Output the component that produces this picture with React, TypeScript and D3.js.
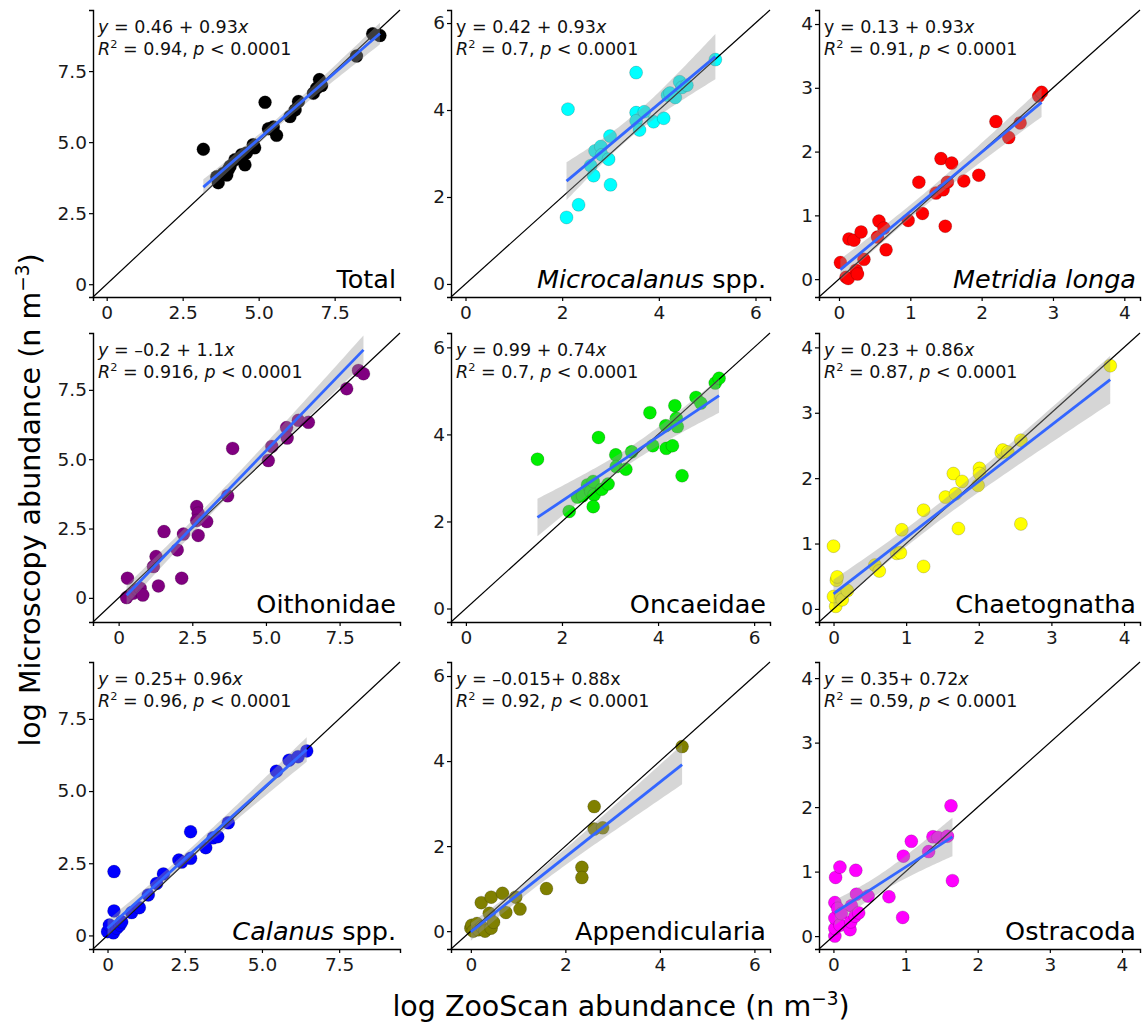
import { useEffect, useRef } from "react";
import * as d3 from "d3";

// Noms des panneaux (entre _ : italique)
const panelNames = [
  "Total", "_Microcalanus_ spp.", "_Metridia longa_",
  "Oithonidae", "Oncaeidae", "Chaetognatha",
  "_Calanus_ spp.", "Appendicularia", "Ostracoda",
];

const panelColors = [
  "#000000", "#00ffff", "#ff0000",
  "#800080", "#00ee00", "#ffff00",
  "#0000ff", "#808000", "#ff00ff",
];

// Equations affichées (_ : italique, ^ : exposant)
const eqLines = [
  "_y_ = 0.46 + 0.93_x_", "y = 0.42 + 0.93_x_", "y = 0.13 + 0.93_x_",
  "_y_ = –0.2 + 1.1_x_", "_y_ = 0.99 + 0.74_x_", "_y_ = 0.23 + 0.86_x_",
  "_y_ = 0.25+ 0.96_x_", "_y_ = –0.015+ 0.88x", "_y_ = 0.35+ 0.72_x_",
];
const r2Values = ["0.94", "0.7", "0.91", "0.916", "0.7", "0.87", "0.96", "0.92", "0.59"];

// Coefficients de la régression
const fitIntercept = [0.46, 0.42, 0.13, -0.2, 0.99, 0.23, 0.25, -0.015, 0.35];
const fitSlope = [0.93, 0.93, 0.93, 1.1, 0.74, 0.86, 0.96, 0.88, 0.72];

// Limites des axes (identiques en x et y)
const domainMin = [-0.45, -0.3, -0.28, -0.87, -0.31, -0.2, -0.47, -0.42, -0.2];
const domainMax = [9.65, 6.3, 4.22, 9.55, 6.33, 4.22, 9.47, 6.33, 4.25];

const ticksA = [0, 2.5, 5, 7.5];
const ticksB = [0, 2, 4, 6];
const ticksC = [0, 1, 2, 3, 4];
const panelTicks = [ticksA, ticksB, ticksC, ticksA, ticksB, ticksC, ticksA, ticksB, ticksC];

// Données : log ZooScan (x) et log Microscopie (y)
const totalZoo = [3.18, 3.62, 3.67, 3.84, 3.95, 4.0, 4.06, 4.22, 4.44, 4.55, 4.6, 4.82, 4.87, 5.21, 5.32, 5.48, 5.59, 6.03, 6.2, 6.31, 6.8, 6.91, 7.0, 7.07, 8.22, 8.75, 8.99];
const totalMicro = [4.75, 3.78, 3.57, 3.9, 3.84, 4.03, 4.15, 4.38, 4.56, 4.2, 4.62, 4.91, 4.8, 6.4, 5.47, 5.53, 5.24, 5.9, 6.13, 6.43, 6.72, 6.9, 7.2, 6.99, 8.03, 8.81, 8.75];

const microZoo = [2.12, 2.09, 2.34, 2.59, 2.65, 2.68, 2.8, 2.82, 2.96, 2.99, 3.0, 3.53, 3.53, 3.53, 3.6, 3.7, 3.89, 4.1, 4.18, 4.23, 4.34, 4.43, 4.48, 4.58, 5.17];
const microMicro = [4.02, 1.53, 1.82, 2.72, 2.49, 3.06, 3.16, 2.97, 2.87, 3.4, 2.28, 4.86, 3.94, 3.75, 3.54, 3.96, 3.73, 3.81, 4.34, 4.39, 4.29, 4.65, 4.52, 4.57, 5.16];

const metridiaZoo = [0.02, 0.1, 0.13, 0.14, 0.21, 0.24, 0.26, 0.31, 0.35, 0.54, 0.56, 0.63, 0.66, 0.97, 1.12, 1.17, 1.36, 1.43, 1.46, 1.49, 1.52, 1.58, 1.75, 1.96, 2.2, 2.38, 2.54, 2.8, 2.84];
const metridiaMicro = [0.26, 0.03, 0.01, 0.63, 0.61, 0.14, 0.08, 0.74, 0.31, 0.66, 0.91, 0.8, 0.46, 0.92, 1.52, 1.03, 1.35, 1.89, 1.4, 0.83, 1.52, 1.82, 1.54, 1.63, 2.47, 2.22, 2.45, 2.87, 2.93];

const oithoZoo = [0.3, 0.27, 0.5, 0.63, 0.73, 0.82, 1.18, 1.27, 1.35, 1.54, 1.99, 2.14, 2.2, 2.65, 2.7, 2.65, 2.7, 2.99, 3.7, 3.87, 5.08, 5.2, 5.7, 5.72, 6.1, 6.44, 7.74, 8.14, 8.31];
const oithoMicro = [0.71, 0.01, 0.17, 0.29, 0.35, 0.1, 1.13, 1.49, 0.43, 2.39, 1.73, 0.71, 2.3, 3.29, 3.05, 2.79, 2.25, 2.75, 3.68, 5.39, 4.95, 5.46, 6.14, 5.76, 6.4, 6.33, 7.54, 8.2, 8.08];

const oncaeZoo = [1.49, 2.15, 2.32, 2.43, 2.53, 2.6, 2.65, 2.67, 2.65, 2.76, 2.83, 2.96, 3.12, 3.13, 3.33, 3.45, 3.83, 3.89, 4.16, 4.17, 4.3, 4.35, 4.38, 4.4, 4.5, 4.79, 4.89, 5.19, 5.27];
const oncaeMicro = [3.43, 2.23, 2.56, 2.59, 2.84, 2.69, 2.92, 2.61, 2.34, 3.93, 2.74, 2.86, 3.53, 3.26, 3.2, 3.6, 4.5, 3.74, 4.2, 3.68, 3.74, 4.66, 4.37, 4.18, 3.05, 4.85, 4.72, 5.18, 5.29];

const chaetoZoo = [0.0, 0.03, 0.0, 0.04, 0.05, 0.1, 0.12, 0.19, 0.57, 0.63, 0.87, 0.92, 0.94, 1.24, 1.24, 1.54, 1.65, 1.68, 1.72, 1.77, 1.99, 2.01, 2.01, 2.31, 2.33, 2.4, 2.58, 2.58, 3.81];
const chaetoMicro = [0.96, 0.04, 0.19, 0.44, 0.49, 0.21, 0.14, 0.28, 0.67, 0.58, 0.85, 0.86, 1.21, 1.51, 0.65, 1.71, 2.07, 1.76, 1.23, 1.95, 1.89, 2.15, 2.07, 2.39, 2.43, 2.4, 2.58, 1.3, 3.72];

const calanusZoo = [0.0, 0.06, 0.19, 0.21, 0.21, 0.3, 0.4, 0.46, 0.78, 1.03, 1.32, 1.59, 1.81, 2.31, 2.4, 2.69, 2.69, 3.18, 3.42, 3.57, 3.91, 5.47, 5.88, 6.17, 6.45];
const calanusMicro = [0.13, 0.36, 0.09, 2.21, 0.85, 0.25, 0.36, 0.47, 0.79, 0.96, 1.4, 1.8, 2.13, 2.61, 2.54, 3.59, 2.67, 3.04, 3.38, 3.42, 3.9, 5.69, 6.07, 6.19, 6.39];

const appendZoo = [0.0, 0.02, 0.05, 0.13, 0.16, 0.22, 0.23, 0.3, 0.43, 0.39, 0.43, 0.48, 0.67, 0.74, 0.95, 1.04, 1.6, 2.35, 2.35, 2.61, 2.61, 2.79, 4.47];
const appendMicro = [0.07, 0.14, 0.0, 0.18, 0.03, 0.67, 0.1, 0.0, 0.8, 0.42, 0.07, 0.21, 0.89, 0.44, 0.8, 0.52, 1.0, 1.5, 1.26, 2.93, 2.4, 2.43, 4.34];

const ostraZoo = [0.02, 0.02, 0.02, 0.02, 0.03, 0.06, 0.09, 0.09, 0.11, 0.23, 0.24, 0.25, 0.3, 0.31, 0.32, 0.35, 0.48, 0.77, 0.96, 0.97, 1.08, 1.32, 1.38, 1.45, 1.58, 1.63, 1.65];
const ostraMicro = [0.0, 0.12, 0.28, 0.52, 0.91, 0.43, 0.17, 1.07, 0.35, 0.1, 0.22, 0.47, 0.31, 1.02, 0.65, 0.36, 0.62, 0.61, 0.29, 1.24, 1.47, 1.31, 1.54, 1.53, 1.55, 2.02, 0.86];

const zooSeries = [totalZoo, microZoo, metridiaZoo, oithoZoo, oncaeZoo, chaetoZoo, calanusZoo, appendZoo, ostraZoo];
const microSeries = [totalMicro, microMicro, metridiaMicro, oithoMicro, oncaeMicro, chaetoMicro, calanusMicro, appendMicro, ostraMicro];

// Mise en page
const width = 1142;
const height = 1027;
const colLeft = [93, 451, 819];
const colRight = [400, 770, 1140];
const rowTop = [10, 333, 662];
const rowBottom = [297, 622, 949];
const font = "DejaVu Sans";

// Texte avec italique (_..._) et exposant (^...^)
const addRich = (textSel, str, size) => {
  const parts = str.split(/(_[^_]+_|\^[^^]+\^)/).filter(s => s.length);
  let reset = 0;
  parts.forEach(p => {
    const t = textSel.append("tspan");
    if (reset) { t.attr("dy", reset); reset = 0; }
    if (p.startsWith("_")) {
      t.attr("font-style", "italic").text(p.slice(1, -1));
    } else if (p.startsWith("^")) {
      t.attr("font-size", size * 0.65).attr("dy", -size * 0.4).text(p.slice(1, -1));
      reset = size * 0.4;
    } else {
      t.text(p);
    }
  });
};

const drawChart = (node) => {
  const svg = d3.select(node);
  svg.selectAll("*").remove();

  panelNames.forEach((name, i) => {
    const col = i % 3;
    const row = Math.floor(i / 3);
    const x = d3.scaleLinear().domain([domainMin[i], domainMax[i]]).range([colLeft[col], colRight[col]]);
    const y = d3.scaleLinear().domain([domainMin[i], domainMax[i]]).range([rowBottom[row], rowTop[row]]);
    const xs = zooSeries[i];
    const ys = microSeries[i];
    const g = svg.append("g");

    // Points
    g.selectAll("circle")
      .data(xs.map((v, k) => [v, ys[k]]))
      .join("circle")
      .attr("cx", d => x(d[0]))
      .attr("cy", d => y(d[1]))
      .attr("r", 6.5)
      .attr("fill", panelColors[i])
      .attr("stroke", "#000")
      .attr("stroke-opacity", 0.25)
      .attr("stroke-width", 0.7);

    // Droite 1:1
    g.append("line")
      .attr("x1", x(domainMin[i])).attr("y1", y(domainMin[i]))
      .attr("x2", x(domainMax[i])).attr("y2", y(domainMax[i]))
      .attr("stroke", "#000").attr("stroke-width", 1.2);

    // Intervalle de confiance de la régression
    const a = fitIntercept[i];
    const b = fitSlope[i];
    const n = xs.length;
    const xbar = d3.mean(xs);
    const sxx = d3.sum(xs, v => (v - xbar) ** 2);
    const sse = d3.sum(xs, (v, k) => (ys[k] - (a + b * v)) ** 2);
    const s = Math.sqrt(sse / (n - 2));
    const tval = 2.06;
    const [xmin, xmax] = d3.extent(xs);
    const grid = d3.range(0, 61).map(k => xmin + (xmax - xmin) * k / 60);
    const se = v => s * Math.sqrt(1 / n + (v - xbar) ** 2 / sxx);

    g.append("path")
      .datum(grid)
      .attr("d", d3.area()
        .x(v => x(v))
        .y0(v => y(a + b * v - tval * se(v)))
        .y1(v => y(a + b * v + tval * se(v))))
      .attr("fill", "#999999")
      .attr("fill-opacity", 0.4);

    g.append("line")
      .attr("x1", x(xmin)).attr("y1", y(a + b * xmin))
      .attr("x2", x(xmax)).attr("y2", y(a + b * xmax))
      .attr("stroke", "#3366ff").attr("stroke-width", 2.8);

    // Axes
    const fmt = v => (panelTicks[i] === ticksA && v !== 0 ? d3.format(".1f")(v) : String(v));
    const xAxis = g.append("g").attr("transform", `translate(0,${rowBottom[row]})`)
      .call(d3.axisBottom(x).tickValues(panelTicks[i]).tickSize(4).tickFormat(fmt));
    const yAxis = g.append("g").attr("transform", `translate(${colLeft[col]},0)`)
      .call(d3.axisLeft(y).tickValues(panelTicks[i]).tickSize(4).tickFormat(fmt));
    [xAxis, yAxis].forEach(ax => {
      ax.select(".domain").attr("stroke", "#000").attr("stroke-width", 1.4);
      ax.selectAll(".tick line").attr("stroke", "#000").attr("stroke-width", 1.2);
      ax.selectAll(".tick text")
        .attr("fill", "#1a1a1a")
        .attr("font-family", font)
        .attr("font-size", 18.5);
    });
    xAxis.selectAll(".tick text").attr("dy", "0.95em").attr("y", 4);
    yAxis.selectAll(".tick text").attr("x", -6);

    // Equation et R²
    const eq = g.append("text")
      .attr("x", colLeft[col] + 5).attr("y", rowTop[row] + 23)
      .attr("font-family", font).attr("font-size", 17.5).attr("fill", "#111");
    addRich(eq, eqLines[i], 17.5);
    const r2 = g.append("text")
      .attr("x", colLeft[col] + 5).attr("y", rowTop[row] + 45)
      .attr("font-family", font).attr("font-size", 17.5).attr("fill", "#111");
    addRich(r2, `_R_^2^ = ${r2Values[i]}, _p_ < 0.0001`, 17.5);

    // Nom du taxon
    const lab = g.append("text")
      .attr("x", colRight[col] - 4).attr("y", rowBottom[row] - 9)
      .attr("text-anchor", "end")
      .attr("font-family", font).attr("font-size", 25.5).attr("fill", "#000");
    addRich(lab, name, 25.5);
  });

  // Titres des axes
  const yt = svg.append("text")
    .attr("transform", "translate(40,500) rotate(-90)")
    .attr("text-anchor", "middle")
    .attr("font-family", font).attr("font-size", 28.5).attr("fill", "#000");
  addRich(yt, "log Microscopy abundance (n m^−3^", 28.5);
  yt.append("tspan").attr("dy", 28.5 * 0.4).text(")");

  const xt = svg.append("text")
    .attr("x", 621).attr("y", 1016)
    .attr("text-anchor", "middle")
    .attr("font-family", font).attr("font-size", 28.5).attr("fill", "#000");
  addRich(xt, "log ZooScan abundance (n m^−3^", 28.5);
  xt.append("tspan").attr("dy", 28.5 * 0.4).text(")");
};

export default function App() {
  const ref = useRef(null);

  useEffect(() => {
    drawChart(ref.current);
  }, []);

  return (
    <svg
      ref={ref}
      width={width}
      height={height}
      style={{ position: "absolute", left: 0, top: 0, background: "#fff" }}
    />
  );
}
